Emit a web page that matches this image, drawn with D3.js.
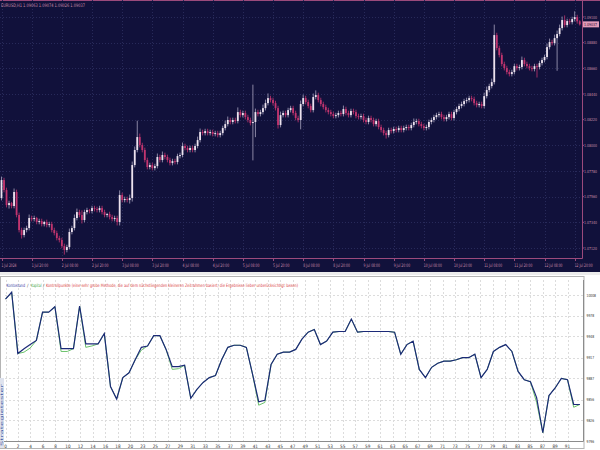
<!DOCTYPE html>
<html><head><meta charset="utf-8">
<script src="https://cdn.jsdelivr.net/npm/d3@7"></script>
<style>body{margin:0;background:#fff}svg{display:block}text{font-family:"Liberation Sans Narrow","DejaVu Sans Condensed","DejaVu Sans",sans-serif}</style>
</head><body><svg id="c" width="600" height="450"></svg>
<script>
// ---------- top panel data (EURUSD H1) ----------
const firstOpen = 1.07548;
const closes = [
1.07702,1.07617,1.07488,1.07505,1.07480,1.07600,1.07403,1.07274,1.07231,1.07274,
1.07291,1.07377,1.07368,1.07377,1.07343,1.07351,1.07325,1.07343,1.07317,1.07325,
1.07274,1.07248,1.07205,1.07188,1.07137,1.07103,1.07128,1.07257,1.07291,1.07377,
1.07428,1.07403,1.07360,1.07428,1.07445,1.07437,1.07462,1.07454,1.07445,1.07462,
1.07428,1.07403,1.07411,1.07385,1.07368,1.07377,1.07343,1.07574,1.07531,1.07540,
1.07531,1.07548,1.07831,1.07960,1.08071,1.08002,1.07960,1.07874,1.07814,1.07831,
1.07805,1.07822,1.07900,1.07874,1.07917,1.07900,1.07874,1.07848,1.07865,1.07857,
1.07908,1.07917,1.07994,1.07977,1.07960,1.07977,1.07960,1.07994,1.08045,1.08114,
1.08105,1.08122,1.08105,1.08114,1.08097,1.08105,1.08088,1.08105,1.08148,1.08182,
1.08217,1.08200,1.08217,1.08208,1.08285,1.08259,1.08277,1.08242,1.08217,1.08191,
1.08200,1.08285,1.08268,1.08285,1.08319,1.08362,1.08405,1.08388,1.08362,1.08319,
1.08174,1.08259,1.08277,1.08259,1.08302,1.08319,1.08277,1.08234,1.08217,1.08354,
1.08405,1.08371,1.08337,1.08302,1.08414,1.08431,1.08388,1.08354,1.08328,1.08302,
1.08285,1.08268,1.08251,1.08259,1.08277,1.08268,1.08311,1.08277,1.08259,1.08294,
1.08285,1.08251,1.08242,1.08251,1.08217,1.08200,1.08234,1.08217,1.08182,1.08208,
1.08157,1.08131,1.08105,1.08088,1.08131,1.08122,1.08140,1.08131,1.08148,1.08131,
1.08148,1.08157,1.08148,1.08174,1.08200,1.08208,1.08182,1.08165,1.08148,1.08157,
1.08200,1.08217,1.08242,1.08259,1.08268,1.08242,1.08225,1.08242,1.08268,1.08234,
1.08285,1.08311,1.08337,1.08354,1.08379,1.08388,1.08405,1.08397,1.08362,1.08345,
1.08354,1.08337,1.08422,1.08474,1.08508,1.08542,1.08945,1.08834,1.08774,1.08697,
1.08662,1.08628,1.08611,1.08628,1.08679,1.08662,1.08671,1.08731,1.08697,1.08679,
1.08662,1.08654,1.08679,1.08671,1.08705,1.08731,1.08757,1.08842,1.08885,1.08876,
1.08919,1.08954,1.09005,1.09074,1.09031,1.09065,1.09056,1.09082,1.09099,1.09063,
1.09037];
// wick lengths, in pips above/below the body
const upperWickPips = [
3,2,2,2,1,3,2,2,2,2, 2,3,2,2,1,2,2,1,2,2, 2,2,2,2,2,2,2,3,2,3, 3,2,4,2,2,1,2,2,2,2,
2,2,1,2,2,2,2,4,2,2, 2,3,3,3,14,3,2,2,2,2, 2,2,3,2,3,2,2,2,2,2, 2,2,3,2,2,2,2,2,3,3,
2,2,2,2,2,2,2,2,2,3, 3,2,2,2,4,2,2,2,2,2, 32,3,2,2,3,3,4,2,2,2, 2,3,2,2,2,2,2,2,2,3,
3,2,2,2,3,4,2,2,2,2, 2,2,2,2,2,2,3,2,2,2, 2,2,2,2,2,2,2,2,2,2, 2,2,2,2,2,2,2,2,2,2,
2,2,2,2,3,2,2,2,2,2, 2,2,2,2,2,2,2,2,2,2, 2,2,2,2,2,2,2,2,2,2, 2,2,3,3,2,3,9,2,2,2,
2,2,2,2,2,2,2,3,2,2, 2,2,2,2,2,2,2,3,3,2, 3,3,3,3,4,2,2,2,5,2, 1];
const lowerWickPips = [
2,2,2,3,2,2,2,2,3,2, 2,2,2,2,2,2,2,2,2,2, 2,2,2,2,2,4,2,2,2,2, 2,2,3,2,2,2,2,2,2,2,
2,2,2,2,2,2,3,3,2,2, 2,3,3,2,2,2,2,2,2,2, 2,2,2,2,2,2,2,2,2,2, 2,2,2,2,2,2,2,2,2,2,
2,2,2,2,2,2,2,2,2,2, 2,2,2,2,2,2,2,2,2,2, 32,13,2,2,2,2,2,2,2,2, 3,2,2,2,2,2,2,2,2,8,
2,2,2,2,2,2,2,2,2,2, 2,2,2,2,2,2,2,2,2,2, 2,2,2,2,2,2,2,2,2,2, 2,2,2,3,2,2,2,2,2,2,
2,2,2,2,2,2,2,2,2,2, 2,2,2,2,2,2,2,2,2,2, 2,2,2,2,2,2,2,2,2,2, 2,2,2,2,2,2,2,2,2,2,
2,2,2,2,2,2,2,2,2,2, 2,2,2,9,2,2,2,2,2,2, 2,28,2,2,2,2,2,2,2,2, 1];
const priceTicks = [1.07120,1.07340,1.07560,1.07780,1.08000,1.08220,1.08440,1.08660,1.08880,1.09100];
const timeLabels = ["1 Jul 2024","1 Jul 20:00","2 Jul 08:00","2 Jul 20:00","3 Jul 08:00","3 Jul 20:00",
 "4 Jul 08:00","4 Jul 20:00","5 Jul 08:00","5 Jul 20:00","8 Jul 08:00","8 Jul 20:00","9 Jul 08:00",
 "9 Jul 20:00","10 Jul 08:00","10 Jul 20:00","11 Jul 08:00","11 Jul 20:00","12 Jul 08:00","12 Jul 20:00"];
const barsPerLabel = 12;
const headerText = "EURUSD,H1  1.09063 1.09074 1.09026 1.09037";

// ---------- bottom panel data (tester graph) ----------
const balance = [
10002,10012,9923,9930,9936,9942,9983,9983,9991,9930,
9930,9930,9992,9937,9937,9937,9952,9875,9857,9888,
9895,9914,9932,9934,9949,9949,9929,9904,9904,9906,
9858,9871,9881,9888,9891,9914,9932,9935,9935,9932,
9893,9853,9855,9907,9922,9925,9925,9929,9944,9954,
9958,9936,9941,9954,9955,9955,9973,9954,9955,9955,
9955,9955,9955,9954,9922,9936,9941,9900,9888,9903,
9909,9912,9912,9914,9917,9917,9922,9888,9900,9926,
9932,9936,9926,9897,9885,9882,9859,9808,9862,9873,
9887,9885,9849,9849];
const equity = [
10002,10012,9923,9925,9931,9942,9983,9983,9991,9926,
9926,9930,9992,9932,9934,9937,9952,9875,9857,9888,
9895,9914,9928,9934,9949,9949,9929,9900,9901,9906,
9858,9871,9881,9888,9891,9914,9932,9935,9935,9932,
9893,9848,9852,9907,9922,9925,9925,9929,9944,9954,
9958,9936,9941,9954,9955,9955,9973,9954,9955,9955,
9955,9955,9955,9954,9922,9936,9941,9900,9888,9903,
9909,9912,9912,9914,9917,9917,9922,9888,9900,9926,
9932,9936,9926,9897,9885,9882,9852,9808,9862,9873,
9887,9885,9845,9849];
const balanceTicks = [9796,9826,9856,9887,9917,9948,9978,10008];
const tradeTickLabels = ["0","2","4","6","8","10","12","14","16","18","20","23","25","27","29","31","33","35",
 "37","39","41","43","45","47","49","51","53","55","57","59","61","63","65","67","69","71","73","75","77",
 "79","81","83","85","87","89","91"];
const tradeMax = 91;

// ---------- drawing ----------
const svg = d3.select("#c");
const C = {bg:"#11113b", frame:"#9b4a7c", grid:"#282a5a", txt:"#c98aa8", bull:"#ece2ee", bear:"#c2356f", bullWick:"#aaa4bf"};

svg.append("rect").attr("x",0).attr("y",0).attr("width",600).attr("height",272).attr("fill",C.bg);
svg.append("line").attr("x1",0).attr("x2",600).attr("y1",0.5).attr("y2",0.5).attr("stroke",C.frame);

const xT = d3.scaleLinear().domain([0, barsPerLabel*(timeLabels.length-1)]).range([1.5, 574.7]);
const yT = d3.scaleLinear().domain([priceTicks[0], priceTicks[priceTicks.length-1]]).range([248, 17]);

const gTop = svg.append("g");
gTop.selectAll(".hg").data(priceTicks).join("line")
  .attr("x1",0).attr("x2",582).attr("y1",d=>Math.round(yT(d))+0.5).attr("y2",d=>Math.round(yT(d))+0.5)
  .attr("stroke",C.grid).attr("stroke-dasharray","1,2");
gTop.selectAll(".vg").data(timeLabels).join("line")
  .attr("x1",(d,i)=>Math.round(xT(i*barsPerLabel))+0.5).attr("x2",(d,i)=>Math.round(xT(i*barsPerLabel))+0.5)
  .attr("y1",0).attr("y2",258).attr("stroke",C.grid).attr("stroke-dasharray","1,2");

const pip = 0.0001;
const candles = closes.map((c,i)=>{
  const o = i===0?firstOpen:closes[i-1];
  return {i,o,c,h:Math.max(o,c)+upperWickPips[i]*pip,l:Math.min(o,c)-lowerWickPips[i]*pip};
});
const cg = gTop.append("g");
cg.selectAll("line").data(candles).join("line")
  .attr("x1",d=>xT(d.i)).attr("x2",d=>xT(d.i)).attr("y1",d=>yT(d.h)).attr("y2",d=>yT(d.l))
  .attr("stroke",d=>d.c>=d.o?C.bullWick:C.bear).attr("stroke-width",0.8);
cg.selectAll("rect").data(candles).join("rect")
  .attr("x",d=>xT(d.i)-0.9).attr("width",1.8)
  .attr("y",d=>yT(Math.max(d.o,d.c)))
  .attr("height",d=>Math.max(1, Math.abs(yT(d.o)-yT(d.c))))
  .attr("fill",d=>d.c>=d.o?C.bull:C.bear);

gTop.append("line").attr("x1",582.5).attr("x2",582.5).attr("y1",0).attr("y2",258.5).attr("stroke",C.frame);
gTop.append("line").attr("x1",0).attr("x2",582.5).attr("y1",258.5).attr("y2",258.5).attr("stroke",C.frame);

const axisFont = "Liberation Sans, DejaVu Sans, sans-serif";
gTop.selectAll(".pl").data(priceTicks).join("text")
  .attr("x",584).attr("y",d=>yT(d)+1.5).attr("font-size",4).attr("font-family",axisFont).attr("fill",C.txt)
  .attr("textLength",13).attr("lengthAdjust","spacingAndGlyphs").text(d=>d.toFixed(5));
gTop.selectAll(".pt").data(priceTicks).join("line")
  .attr("x1",582.5).attr("x2",584).attr("y1",d=>yT(d)).attr("y2",d=>yT(d)).attr("stroke",C.frame);
const last = closes[closes.length-1];
gTop.append("rect").attr("x",583).attr("y",yT(last)-3).attr("width",16).attr("height",6).attr("fill","#e39bb8");
gTop.append("text").attr("x",584).attr("y",yT(last)+1.5).attr("font-size",4).attr("font-family",axisFont).attr("fill","#2a1030")
  .attr("textLength",13).attr("lengthAdjust","spacingAndGlyphs").text(last.toFixed(5));

gTop.selectAll(".tl").data(timeLabels).join("text")
  .attr("x",(d,i)=>xT(i*barsPerLabel)).attr("y",267).attr("font-size",4.8).attr("fill",C.txt)
  .attr("textLength",d=>d.length*1.5).attr("lengthAdjust","spacingAndGlyphs").text(d=>d);
gTop.selectAll(".tt").data(timeLabels).join("line")
  .attr("x1",(d,i)=>Math.round(xT(i*barsPerLabel))+0.5).attr("x2",(d,i)=>Math.round(xT(i*barsPerLabel))+0.5)
  .attr("y1",258.5).attr("y2",261).attr("stroke",C.frame);

gTop.append("text").attr("x",1).attr("y",7).attr("font-size",4.8).attr("fill",C.txt)
  .attr("textLength",84).attr("lengthAdjust","spacingAndGlyphs").text(headerText);

// ---------- bottom panel ----------
svg.append("rect").attr("x",0).attr("y",272).attr("width",600).attr("height",178).attr("fill","#ffffff");
svg.append("rect").attr("x",0).attr("y",272).attr("width",600).attr("height",3).attr("fill","#ececec");
svg.append("rect").attr("x",0.5).attr("y",276.5).attr("width",583.5).attr("height",172).attr("fill","none").attr("stroke","#b4b4b4");
svg.append("rect").attr("x",0).attr("y",378).attr("width",4).attr("height",70).attr("fill","#dfe3ee");
svg.append("text").attr("transform","translate(3.3,446) rotate(-90)").attr("font-size",3.6).attr("fill","#3a56a0")
  .attr("textLength",62).attr("lengthAdjust","spacingAndGlyphs").text("Strategietester");

const xB = d3.scaleLinear().domain([0, tradeMax]).range([5.5, 567.5]);
const yB = d3.scaleLinear().domain([balanceTicks[0], balanceTicks[balanceTicks.length-1]]).range([441, 295]);
const gB = svg.append("g");
const tickPos = tradeTickLabels.map((t,k)=>k*tradeMax/(tradeTickLabels.length-1));

gB.selectAll(".bh").data(balanceTicks).join("line")
  .attr("x1",5).attr("x2",583).attr("y1",d=>Math.round(yB(d))+0.5).attr("y2",d=>Math.round(yB(d))+0.5)
  .attr("stroke","#dcdcdc").attr("stroke-dasharray","2,2");
gB.selectAll(".bv").data(tickPos).join("line")
  .attr("x1",d=>Math.round(xB(d))+0.5).attr("x2",d=>Math.round(xB(d))+0.5)
  .attr("y1",280).attr("y2",441).attr("stroke","#dcdcdc").attr("stroke-dasharray","2,2");

gB.append("line").attr("x1",583.5).attr("x2",583.5).attr("y1",280).attr("y2",441.5).attr("stroke","#8c8c8c");
gB.append("line").attr("x1",4).attr("x2",583.5).attr("y1",441.5).attr("y2",441.5).attr("stroke","#8c8c8c");

const line = d3.line().x((d,i)=>xB(i)).y(d=>yB(d));
gB.append("path").datum(equity).attr("d",line).attr("fill","none").attr("stroke","#6cc36c").attr("stroke-width",1);
gB.append("path").datum(balance).attr("d",line).attr("fill","none").attr("stroke","#1c2a78").attr("stroke-width",1.2);

gB.selectAll(".by").data(balanceTicks).join("text")
  .attr("x",586.5).attr("y",d=>yB(d)+1.5).attr("font-size",4.2).attr("font-family",axisFont).attr("fill","#333")
  .attr("textLength",d=>String(d).length*1.9).attr("lengthAdjust","spacingAndGlyphs").text(d=>d);
gB.selectAll(".bx").data(tradeTickLabels).join("text")
  .attr("x",(d,k)=>xB(tickPos[k])).attr("y",448).attr("text-anchor","middle").attr("font-size",4.6).attr("fill","#333")
  .text(d=>d);

const legendParts = [
  {t:"Kontostand", x:6.5, w:18.5, c:"#3838a0"},
  {t:"/", x:27, w:1.5, c:"#555"},
  {t:"Kapital", x:31, w:10.5, c:"#3aa03a"},
  {t:"/", x:43, w:1.5, c:"#555"},
  {t:"Kontrollpunkte (eine sehr grobe Methode, die auf dem nächstliegenden kleineren Zeitrahmen basiert; die Ergebnisse lieber unberücksichtigt lassen)", x:46, w:252, c:"#d83a3a"}
];
gB.selectAll(".lg").data(legendParts).join("text")
  .attr("x",d=>d.x).attr("y",287).attr("font-size",4.6).attr("fill",d=>d.c)
  .attr("textLength",d=>d.w).attr("lengthAdjust","spacingAndGlyphs").text(d=>d.t);
</script></body></html>
